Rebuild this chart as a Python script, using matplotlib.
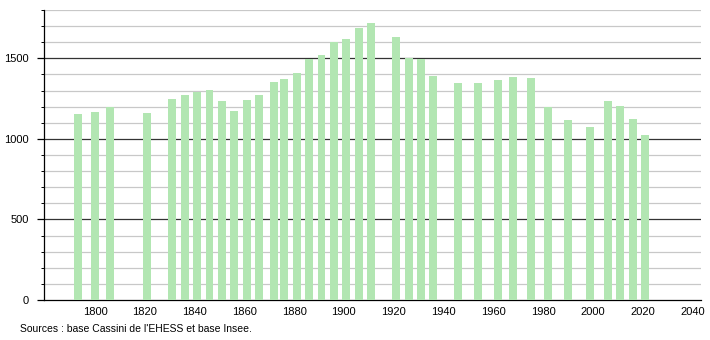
import matplotlib
matplotlib.use("Agg")
import matplotlib.pyplot as plt
from matplotlib.ticker import MultipleLocator

plt.rcParams['font.family'] = ['Liberation Sans', 'DejaVu Sans']

years = [1793, 1800, 1806, 1821, 1831, 1836, 1841, 1846, 1851, 1856, 1861, 1866,
         1872, 1876, 1881, 1886, 1891, 1896, 1901, 1906, 1911, 1921, 1926, 1931,
         1936, 1946, 1954, 1962, 1968, 1975, 1982, 1990, 1999, 2006, 2011, 2016, 2021]
population = [1155, 1168, 1197, 1161, 1248, 1271, 1294, 1304, 1236, 1174, 1244, 1271,
              1354, 1373, 1410, 1495, 1522, 1602, 1619, 1689, 1718, 1631, 1503, 1497,
              1393, 1344, 1344, 1366, 1385, 1379, 1197, 1118, 1075, 1236, 1205, 1124, 1025]
x_ticks = [1800, 1820, 1840, 1860, 1880, 1900, 1920, 1940, 1960, 1980, 2000, 2020, 2040]
y_ticks = [0, 500, 1000, 1500]
source_text = "Sources : base Cassini de l'EHESS et base Insee."

fig = plt.figure(figsize=(7.1, 3.4), dpi=100)
ax = fig.add_axes([44/710, 40/340, (701-44)/710, 290/340])

ax.bar(years, population, width=3.2, color='#b2e6b2', zorder=3)

ax.set_xlim(1779.5, 2043.5)
ax.set_ylim(0, 1800)
ax.set_xticks(x_ticks)
ax.set_yticks(y_ticks)
ax.yaxis.set_minor_locator(MultipleLocator(100))

for v in range(100, 1801, 100):
    if v % 500 == 0:
        ax.axhline(v, color='#333333', lw=0.9, zorder=1)
    else:
        ax.axhline(v, color='#c8c8c8', lw=0.9, zorder=1)

for s in ['top', 'right']:
    ax.spines[s].set_visible(False)
ax.spines['left'].set_linewidth(0.9)
ax.spines['bottom'].set_linewidth(0.9)
ax.tick_params(axis='y', which='major', length=5, width=0.9, labelsize=8, pad=6)
ax.tick_params(axis='y', which='minor', length=2, width=0.7)
ax.tick_params(axis='x', which='major', length=0, labelsize=8, pad=5)

fig.text(20/710, 1 - 329/340, source_text, fontsize=7.5, va='center', ha='left')

fig.savefig('out.png', dpi=100)
